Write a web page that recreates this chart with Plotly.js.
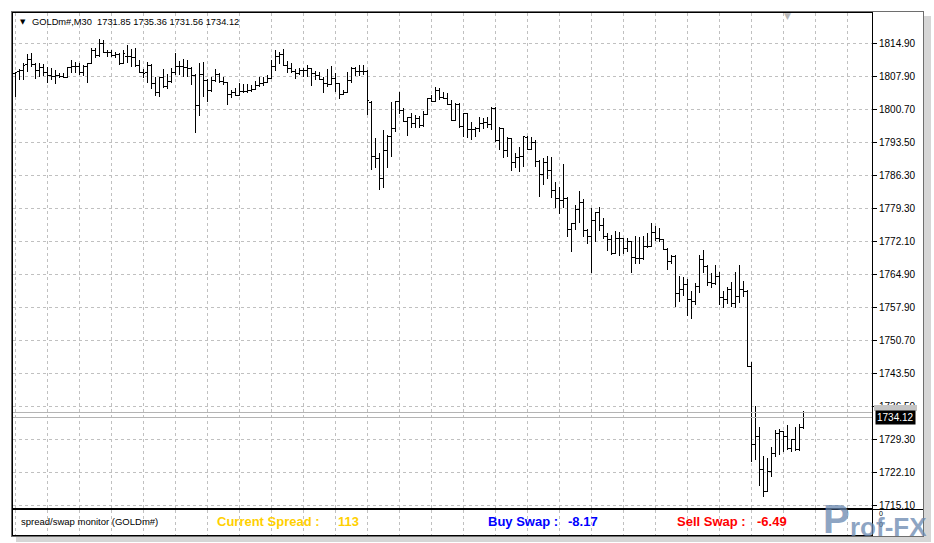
<!DOCTYPE html>
<html><head><meta charset="utf-8">
<script src="https://cdn.plot.ly/plotly-3.0.1.min.js"></script>
<style>html,body{margin:0;padding:0;background:#fff;}#chart{width:934px;height:543px;}
#chart path{shape-rendering:crispEdges;}</style>
</head><body><div id="chart"></div>
<script>
const symbol = 'GOLDm#,M30';
const indicatorName = 'spread/swap monitor (GOLDm#)';
const openP = [1808.48,1808.76,1809.13,1810.36,1811.44,1810.36,1809.13,1809.63,1808.55,1808.05,
 1807.83,1808.05,1807.68,1807.62,1809.63,1809.84,1809.99,1808.55,1809.84,1810.58,
 1813.45,1812.37,1814.90,1813.02,1812.87,1812.37,1812.52,1810.58,1812.15,1812.00,
 1811.87,1810.21,1808.55,1808.63,1810.21,1806.26,1804.23,1807.55,1805.52,1806.60,
 1808.55,1809.99,1809.90,1809.63,1809.50,1808.05,1801.57,1808.27,1806.97,1804.81,
 1806.97,1808.20,1806.60,1806.39,1803.95,1804.23,1803.73,1804.59,1804.59,1804.81,
 1804.96,1805.89,1806.26,1806.39,1807.34,1809.99,1812.00,1812.59,1810.21,1809.50,
 1808.76,1808.42,1809.13,1809.00,1809.50,1808.42,1808.05,1807.12,1806.26,1806.10,
 1807.34,1806.26,1803.95,1804.23,1806.97,1809.50,1808.76,1808.91,1808.76,1802.22,
 1790.40,1790.06,1785.74,1791.85,1794.72,1796.54,1802.28,1800.49,1798.11,1798.83,
 1797.62,1798.70,1797.10,1799.56,1803.02,1802.43,1804.81,1803.15,1803.02,1801.72,
 1798.33,1801.72,1796.88,1799.78,1796.39,1796.30,1796.54,1797.62,1797.83,1797.40,
 1800.86,1794.01,1796.54,1791.85,1794.38,1789.19,1790.19,1790.40,1794.66,1792.00,
 1793.58,1789.32,1786.60,1789.11,1787.53,1783.21,1781.42,1781.05,1781.42,1774.72,
 1775.87,1779.04,1780.55,1774.42,1773.27,1776.58,1778.31,1775.65,1773.12,1772.56,
 1769.54,1772.78,1772.70,1770.62,1772.04,1768.67,1768.50,1768.31,1770.96,1771.11,
 1773.99,1772.84,1772.41,1770.40,1767.72,1768.95,1760.90,1761.76,1762.69,1759.45,
 1759.08,1762.32,1768.24,1766.79,1763.19,1763.00,1764.48,1760.03,1759.60,1761.61,
 1758.74,1760.16,1761.76,1761.24,1745.00,1728.13,1729.92,1722.88,1718.04,1722.36,
 1726.34,1730.51,1731.00,1729.92,1727.42,1729.36,1727.20,1731.85];
const highP = [1808.76,1809.28,1810.58,1812.52,1812.74,1810.71,1810.58,1810.36,1809.84,1809.63,
 1809.13,1808.55,1808.55,1809.84,1811.29,1810.92,1810.58,1810.21,1810.70,1813.82,
 1813.90,1815.76,1815.61,1813.45,1813.45,1813.08,1812.87,1813.45,1814.53,1813.60,
 1813.82,1811.29,1809.28,1810.92,1810.36,1807.55,1807.68,1809.28,1808.27,1809.50,
 1812.74,1811.14,1811.44,1811.29,1809.70,1808.20,1810.71,1810.92,1807.12,1807.68,
 1809.28,1808.55,1807.68,1806.60,1804.81,1805.18,1806.26,1806.11,1806.11,1805.89,
 1806.82,1807.68,1807.68,1808.05,1811.29,1813.45,1813.08,1813.60,1811.14,1810.58,
 1809.28,1809.50,1809.50,1810.21,1809.60,1808.98,1808.76,1807.68,1809.28,1809.99,
 1808.42,1806.40,1804.81,1808.76,1809.70,1809.84,1810.21,1810.21,1809.13,1802.50,
 1794.38,1791.14,1796.17,1795.09,1802.28,1802.40,1804.44,1800.86,1799.04,1799.78,
 1799.41,1799.26,1800.27,1803.15,1803.73,1805.52,1805.18,1804.31,1804.10,1802.65,
 1801.94,1801.94,1799.90,1799.90,1797.96,1796.88,1799.04,1798.83,1799.04,1801.07,
 1801.20,1796.88,1796.70,1794.72,1794.50,1791.14,1792.56,1794.90,1794.87,1794.66,
 1794.01,1789.69,1790.12,1790.55,1790.40,1785.00,1783.92,1788.83,1781.60,1776.02,
 1779.97,1783.06,1781.20,1774.72,1779.26,1778.52,1779.60,1777.10,1773.99,1773.49,
 1774.42,1774.20,1772.90,1772.78,1772.20,1773.27,1772.99,1773.27,1773.99,1776.02,
 1775.43,1775.00,1772.63,1770.60,1769.17,1769.17,1764.63,1764.48,1763.92,1761.46,
 1763.06,1769.17,1770.25,1767.01,1765.22,1767.01,1765.56,1761.39,1762.32,1763.40,
 1765.56,1767.01,1763.62,1761.61,1746.12,1736.62,1732.08,1725.75,1725.26,1727.76,
 1731.37,1731.52,1731.20,1732.45,1729.50,1732.08,1732.67,1735.36];
const lowP = [1803.36,1806.97,1806.97,1808.76,1809.71,1807.12,1807.68,1807.83,1806.39,1806.97,
 1806.11,1807.34,1807.34,1807.50,1808.55,1808.55,1808.05,1807.83,1806.26,1810.40,
 1811.66,1812.00,1812.74,1812.00,1811.87,1811.66,1810.21,1810.40,1810.58,1809.84,
 1809.84,1808.42,1807.34,1806.26,1804.96,1803.51,1803.36,1805.18,1804.96,1806.40,
 1808.05,1808.05,1807.68,1807.68,1805.89,1795.46,1799.19,1803.36,1802.28,1804.44,
 1806.60,1806.26,1805.89,1801.57,1803.02,1803.51,1803.51,1804.10,1804.10,1804.44,
 1804.80,1805.52,1805.67,1806.26,1807.20,1808.98,1810.43,1809.99,1808.42,1808.42,
 1807.12,1808.05,1807.55,1807.68,1805.67,1806.97,1806.97,1804.23,1805.52,1805.89,
 1804.44,1802.80,1803.73,1804.10,1806.26,1807.83,1807.83,1808.05,1799.41,1787.53,
 1787.90,1783.21,1783.58,1787.90,1790.40,1795.80,1799.56,1797.96,1794.94,1796.54,
 1796.67,1796.67,1796.88,1799.41,1802.28,1802.20,1802.65,1802.80,1801.57,1798.10,
 1798.10,1796.70,1794.72,1794.38,1794.01,1794.72,1795.80,1796.39,1796.54,1796.17,
 1793.64,1791.85,1790.06,1790.40,1787.31,1787.90,1787.16,1788.24,1791.90,1791.90,
 1788.18,1781.70,1784.29,1785.52,1781.42,1779.26,1778.03,1779.26,1772.99,1769.88,
 1774.57,1776.02,1773.12,1771.48,1765.22,1772.04,1774.42,1772.56,1770.03,1769.17,
 1769.40,1768.95,1769.39,1769.88,1765.22,1767.23,1767.23,1768.10,1770.62,1771.00,
 1772.19,1771.98,1770.25,1765.93,1767.23,1758.00,1759.08,1760.31,1755.99,1755.28,
 1758.37,1760.90,1765.22,1762.47,1761.98,1762.69,1758.37,1757.66,1758.59,1758.00,
 1757.66,1758.74,1760.03,1744.90,1724.52,1724.89,1719.27,1716.96,1717.90,1721.28,
 1725.60,1725.97,1726.68,1727.05,1726.68,1726.90,1726.90,1731.56];
const closeP = [1808.55,1808.98,1810.21,1811.44,1810.36,1809.13,1809.63,1808.55,1808.05,1807.83,
 1808.05,1807.68,1807.62,1809.63,1809.84,1809.99,1808.55,1809.84,1810.58,1813.45,
 1812.37,1814.90,1813.02,1812.87,1812.37,1812.52,1810.58,1812.74,1812.00,1811.87,
 1810.21,1808.55,1808.42,1810.21,1806.26,1804.23,1807.55,1805.52,1806.60,1808.55,
 1809.99,1809.90,1809.63,1809.50,1808.05,1801.57,1808.27,1806.97,1804.81,1806.97,
 1808.20,1806.60,1806.39,1803.95,1804.23,1803.73,1804.59,1804.59,1804.81,1804.96,
 1805.89,1806.26,1806.39,1807.34,1809.99,1812.00,1812.59,1810.21,1809.50,1808.76,
 1808.42,1809.13,1809.00,1809.50,1808.42,1808.05,1807.12,1806.26,1806.10,1807.34,
 1806.26,1803.95,1804.23,1806.97,1809.50,1808.76,1808.91,1808.76,1802.50,1790.40,
 1790.06,1785.74,1791.85,1794.72,1796.54,1802.28,1800.49,1798.11,1798.83,1797.62,
 1798.70,1797.10,1799.56,1803.02,1802.43,1804.81,1803.15,1803.02,1801.72,1798.33,
 1801.72,1796.88,1799.78,1796.39,1796.30,1796.54,1797.62,1797.83,1797.40,1800.86,
 1794.01,1796.54,1791.85,1794.38,1789.19,1790.19,1790.40,1794.72,1792.00,1793.58,
 1789.32,1786.60,1789.11,1787.53,1783.21,1781.42,1781.05,1781.42,1774.72,1775.87,
 1779.04,1780.55,1774.42,1773.27,1776.58,1778.31,1775.65,1773.12,1772.56,1769.54,
 1772.78,1772.70,1770.62,1772.04,1768.67,1768.50,1768.31,1770.96,1771.11,1773.99,
 1772.84,1772.41,1770.40,1767.72,1768.95,1760.90,1761.76,1762.69,1759.45,1759.08,
 1762.32,1768.24,1766.79,1763.19,1763.00,1764.48,1760.03,1759.60,1761.61,1758.74,
 1760.16,1761.76,1761.24,1745.00,1728.13,1729.92,1722.88,1718.04,1722.36,1726.34,
 1730.51,1731.00,1729.92,1727.42,1729.36,1727.20,1731.95,1734.12];
const priceTickVals = [1814.90,1807.77,1800.64,1793.51,1786.39,1779.26,1772.13,1765.00,1757.87,1750.74,1743.61,1736.49,1729.36,1722.23,1715.10];
const priceTickText = ['1814.90','1807.90','1800.70','1793.50','1786.30','1779.30','1772.10','1764.90','1757.90','1750.70','1743.50','1736.50','1729.30','1722.10','1715.10'];
const bidPrice = 1734.12, askPrice = 1735.25;
const spreadPts = 113, buySwap = -8.17, sellSwap = -6.49;

const FONT = "Tahoma, 'Liberation Sans', Arial, sans-serif";
const Lp = 13, Rp = 872, Tp = 13, Bp = 535, mainBottom = 508, subTop = 510;
const px2x = p => (p - Lp) / (Rp - Lp);
const px2y = p => (Bp - p) / (Bp - Tp);
const idx = openP.map((_, i) => i);
const n = openP.length - 1;

const traces = [
  {type:'ohlc', x: idx, open: openP, high: highP, low: lowP, close: closeP,
   increasing:{line:{color:'#000', width:1}}, decreasing:{line:{color:'#000', width:1}},
   tickwidth:0.4, hoverinfo:'skip', xaxis:'x', yaxis:'y', showlegend:false},
  {type:'scatter', x:[], y:[], xaxis:'x2', yaxis:'y2', showlegend:false}
];

const gridX = {tickmode:'linear', tick0:8.2, dtick:8, showgrid:true, gridcolor:'#c0c0c0', griddash:'3px,3px', gridwidth:1,
  showticklabels:false, ticks:'', zeroline:false, showline:true, mirror:true, linecolor:'#000', linewidth:1, fixedrange:true};

const ann = (x, y, text, opts={}) => Object.assign({xref:'paper', yref:'paper', x: px2x(x), y: px2y(y), text, showarrow:false,
  xanchor:'left', yanchor:'middle', font:{family:FONT, size:9.5, color:'#000'}}, opts);

const layout = {
  width:934, height:543, paper_bgcolor:'#fff', plot_bgcolor:'#fff',
  margin:{l:Lp, r:934-Rp, t:Tp, b:543-Bp},
  showlegend:false,
  xaxis: Object.assign({}, gridX, {range:[-0.5, 214.25], anchor:'y', rangeslider:{visible:false}}),
  xaxis2: Object.assign({}, gridX, {range:[-0.5, 214.25], anchor:'y2', matches:'x'}),
  yaxis: {domain:[px2y(mainBottom), 1], range:[1714.51, 1821.45], side:'right', tickmode:'array',
    tickvals: priceTickVals, ticktext: priceTickText, ticks:'outside', ticklen:4, tickcolor:'#000',
    tickfont:{family:FONT, size:10, color:'#000'}, showgrid:true, gridcolor:'#c0c0c0', griddash:'3px,3px',
    showline:true, mirror:true, linecolor:'#000', linewidth:1, zeroline:false, fixedrange:true},
  yaxis2: {domain:[0, px2y(subTop)], range:[0,1], showticklabels:false, ticks:'', showgrid:false,
    showline:true, mirror:true, linecolor:'#000', linewidth:1, zeroline:false, fixedrange:true},
  shapes: [
    {type:'rect', xref:'paper', yref:'paper', x0:px2x(924), x1:px2x(931), y0:px2y(542), y1:px2y(16), fillcolor:'#d6d6d6', line:{width:0}, layer:'below'},
    {type:'rect', xref:'paper', yref:'paper', x0:px2x(16), x1:px2x(931), y0:px2y(542), y1:px2y(537), fillcolor:'#d6d6d6', line:{width:0}, layer:'below'},
    {type:'rect', xref:'paper', yref:'paper', x0:px2x(11), x1:px2x(923), y0:px2y(536), y1:px2y(11), line:{color:'#6e6e6e', width:1}, fillcolor:'rgba(0,0,0,0)'},
    {type:'line', xref:'paper', yref:'paper', x0:px2x(Rp), x1:px2x(923), y0:px2y(509), y1:px2y(509), line:{color:'#000', width:1}},
    {type:'line', xref:'paper', yref:'y', x0:0, x1:1, y0:askPrice, y1:askPrice, line:{color:'#b4b4b4', width:1}},
    {type:'line', xref:'paper', yref:'y', x0:0, x1:1, y0:bidPrice, y1:bidPrice, line:{color:'#b4b4b4', width:1}},
    {type:'rect', xref:'paper', yref:'paper', x0:px2x(874), x1:px2x(917), y0:px2y(411), y1:px2y(405), fillcolor:'#c4c4c4', line:{width:0}}
  ],
  annotations: [
    ann(18, 22, '▼', {font:{family:'DejaVu Sans', size:7, color:'#000'}}),
    ann(30, 22, `${symbol}  ${openP[n].toFixed(2)} ${highP[n].toFixed(2)} ${lowP[n].toFixed(2)} ${closeP[n].toFixed(2)}`, {font:{family:FONT, size:9.3, color:'#000'}}),
    ann(782, 16, '▼', {font:{family:'DejaVu Sans', size:9, color:'#b8b8b8'}}),
    {xref:'paper', yref:'y', x:px2x(875), y:bidPrice, text:bidPrice.toFixed(2), showarrow:false, xanchor:'left', yanchor:'middle',
      bgcolor:'#000', font:{family:FONT, size:10, color:'#fff'}, borderpad:1},
    ann(19, 521, indicatorName, {font:{family:FONT, size:9.5, color:'#000'}}),
    ann(215, 521, 'Current Spread :', {font:{family:FONT, size:13, color:'#FFD000', weight:'bold'}}),
    ann(336, 521, String(spreadPts), {font:{family:FONT, size:13, color:'#FFD000', weight:'bold'}}),
    ann(486, 521, 'Buy Swap :', {font:{family:FONT, size:13, color:'#0000FF', weight:'bold'}}),
    ann(566, 521, buySwap.toFixed(2), {font:{family:FONT, size:13, color:'#0000FF', weight:'bold'}}),
    ann(675, 521, 'Sell Swap :', {font:{family:FONT, size:13, color:'#FF0000', weight:'bold'}}),
    ann(755, 521, sellSwap.toFixed(2), {font:{family:FONT, size:13, color:'#FF0000', weight:'bold'}}),
    ann(877, 513, '0', {font:{family:FONT, size:7, color:'#000'}}),
    ann(877, 524, '0', {font:{family:FONT, size:7, color:'#000'}}),
    ann(821, 519, 'P', {font:{family:"'Liberation Sans', Arial, sans-serif", size:40, color:'rgba(105,135,175,0.75)', weight:'bold'}}),
    ann(848, 527, 'rof-FX', {font:{family:"'Liberation Sans', Arial, sans-serif", size:26, color:'rgba(105,135,175,0.75)', weight:'bold'}})
  ]
};

Plotly.newPlot('chart', traces, layout, {staticPlot:true, displayModeBar:false});
</script>
</body></html>
